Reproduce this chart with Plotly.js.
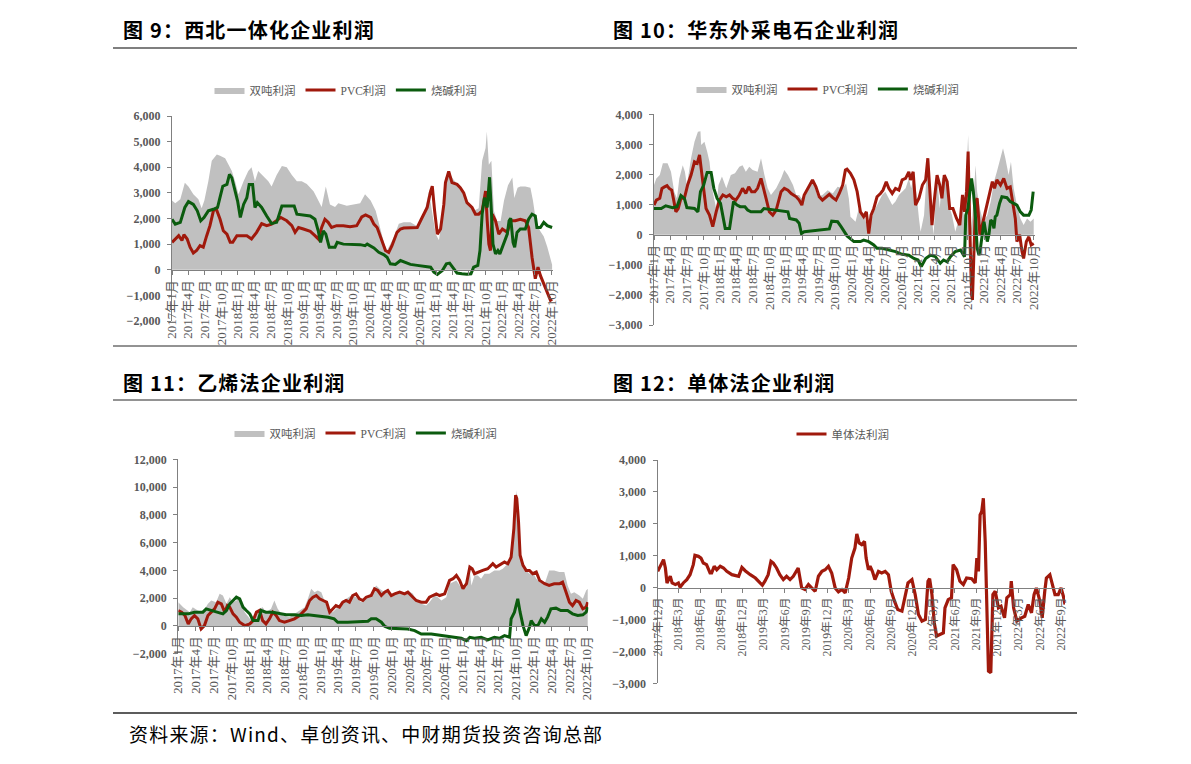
<!DOCTYPE html>
<html><head><meta charset="utf-8">
<script src="https://cdn.plot.ly/plotly-3.0.1.min.js"></script>
<style>html,body{margin:0;padding:0;background:#fff;}#chart{width:1191px;height:764px;}
.annotation-text{letter-spacing:1.2px;}</style>
</head><body><div id="chart"></div>
<script>
// ---------- DATA ----------
const tickLabelsA = ['2017年1月','2017年4月','2017年7月','2017年10月','2018年1月','2018年4月','2018年7月','2018年10月','2019年1月','2019年4月','2019年7月','2019年10月','2020年1月','2020年4月','2020年7月','2020年10月','2021年1月','2021年4月','2021年7月','2021年10月','2022年1月','2022年4月','2022年7月','2022年10月'];
const tickDatesA = ['2017-01-01','2017-04-01','2017-07-01','2017-10-01','2018-01-01','2018-04-01','2018-07-01','2018-10-01','2019-01-01','2019-04-01','2019-07-01','2019-10-01','2020-01-01','2020-04-01','2020-07-01','2020-10-01','2021-01-01','2021-04-01','2021-07-01','2021-10-01','2022-01-01','2022-04-01','2022-07-01','2022-10-01'];
const tickLabelsB = ['2017年12月','2018年3月','2018年6月','2018年9月','2018年12月','2019年3月','2019年6月','2019年9月','2019年12月','2020年3月','2020年6月','2020年9月','2020年12月','2021年3月','2021年6月','2021年9月','2021年12月','2022年3月','2022年6月','2022年9月'];
const tickDatesB = ['2017-12-01','2018-03-01','2018-06-01','2018-09-01','2018-12-01','2019-03-01','2019-06-01','2019-09-01','2019-12-01','2020-03-01','2020-06-01','2020-09-01','2020-12-01','2021-03-01','2021-06-01','2021-09-01','2021-12-01','2022-03-01','2022-06-01','2022-09-01'];

const seriesNames = ['双吨利润','PVC利润','烧碱利润'];
const monomerName = '单体法利润';

// 图9 西北一体化企业利润
const c1Ton = [['2017-01-01',2700],['2017-01-19',2600],['2017-02-16',2750],['2017-03-13',3400],['2017-04-02',3250],['2017-04-29',2950],['2017-05-27',2750],['2017-06-14',2400],['2017-06-29',2700],['2017-07-21',3450],['2017-08-09',4250],['2017-09-06',4500],['2017-09-24',4450],['2017-10-22',4350],['2017-11-10',4100],['2017-11-28',3850],['2017-12-16',3450],
['2018-01-04',2950],['2018-02-01',3450],['2018-02-27',3850],['2018-03-17',4000],['2018-04-05',3450],['2018-04-23',3850],['2018-05-21',3650],['2018-06-18',3450],['2018-07-06',3250],['2018-08-03',3700],['2018-09-01',4050],['2018-09-28',4000],['2018-10-26',3700],['2018-11-23',3450],['2018-12-20',3450],
['2019-01-17',3350],['2019-02-24',3050],['2019-03-21',2700],['2019-04-09',2450],['2019-05-02',3250],['2019-05-25',2550],['2019-06-22',2450],['2019-07-10',2600],['2019-08-26',2500],['2019-10-01',2550],['2019-11-08',2600],['2019-12-05',2950],
['2020-01-05',2700],['2020-02-02',2300],['2020-02-28',1650],['2020-03-21',1000],['2020-04-05',750],['2020-04-23',1000],['2020-05-11',1250],['2020-06-09',1800],['2020-07-06',1850],['2020-08-12',1850],['2020-09-19',1700],['2020-10-07',1900],['2020-11-04',2450],['2020-11-22',3050],['2020-12-11',2300],['2020-12-30',1400],
['2021-01-17',1150],['2021-02-05',2150],['2021-02-22',3600],['2021-03-12',3800],['2021-04-09',3500],['2021-05-06',3300],['2021-06-03',2950],['2021-07-01',2550],['2021-07-28',2300],['2021-08-25',2400],['2021-09-13',4250],['2021-10-02',4750],['2021-10-09',5400],['2021-10-20',4100],['2021-11-03',4250],['2021-11-17',2300],['2021-12-05',1900],['2021-12-24',1900],
['2022-01-12',2700],['2022-02-03',3300],['2022-02-27',3600],['2022-03-10',2800],['2022-03-28',3200],['2022-04-12',3250],['2022-05-10',3250],['2022-06-07',3200],['2022-06-21',2700],['2022-07-10',1800],['2022-08-01',1500],['2022-08-20',1300],['2022-09-08',900],['2022-09-28',400],['2022-10-05',200]];
const c1Pvc = [['2017-01-01',1070],['2017-01-19',1200],['2017-02-07',1330],['2017-02-25',1140],['2017-03-08',1370],['2017-03-26',1200],['2017-04-11',880],['2017-04-29',650],['2017-05-17',750],['2017-06-05',940],['2017-06-23',880],['2017-07-12',1330],['2017-07-30',1720],['2017-08-18',2300],['2017-09-02',2390],['2017-09-24',1970],['2017-10-12',1520],['2017-11-01',1390],['2017-11-19',1070],['2017-12-03',1070],['2017-12-26',1330],
['2018-01-23',1330],['2018-02-19',1330],['2018-03-17',1200],['2018-04-14',1460],['2018-05-12',1800],['2018-06-09',1720],['2018-07-06',1780],['2018-08-03',1910],['2018-08-26',2040],['2018-09-28',1910],['2018-10-26',1720],['2018-11-13',1460],['2018-12-02',1650],['2018-12-29',1590],
['2019-02-05',1500],['2019-03-03',1330],['2019-03-21',1200],['2019-04-09',1650],['2019-04-27',1970],['2019-05-15',1850],['2019-06-03',1650],['2019-07-01',1720],['2019-08-07',1720],['2019-09-13',1680],['2019-10-20',1720],['2019-11-17',2060],['2019-12-08',2140],
['2020-01-05',2040],['2020-01-23',1780],['2020-02-10',1650],['2020-03-08',1140],['2020-03-27',750],['2020-04-14',680],['2020-05-02',940],['2020-05-30',1460],['2020-06-18',1590],['2020-07-06',1630],['2020-08-12',1650],['2020-09-19',1650],['2020-10-16',2040],['2020-11-13',2430],['2020-12-02',3070],['2020-12-11',3260],['2020-12-24',2300],
['2021-01-08',1390],['2021-01-26',1590],['2021-02-13',2550],['2021-02-22',3400],['2021-03-12',3840],['2021-03-30',3400],['2021-04-27',3330],['2021-05-15',3200],['2021-06-03',3000],['2021-06-21',2620],['2021-07-19',2430],['2021-08-07',2170],['2021-08-25',2170],['2021-09-13',2300],['2021-10-02',3070],['2021-10-11',1910],['2021-10-20',1000],['2021-10-29',750],['2021-11-08',2170],['2021-11-26',1910],['2021-12-14',1390],
['2022-01-03',1590],['2022-01-30',1460],['2022-02-18',1910],['2022-03-15',1910],['2022-04-12',1970],['2022-05-10',1910],['2022-05-28',1650],['2022-06-16',490],['2022-07-04',-350],['2022-07-19',100],['2022-08-01',-220],['2022-08-20',-540],['2022-09-08',-860],['2022-09-26',-1190],['2022-10-05',-1150]];
const c1Soda = [['2017-01-01',1970],['2017-01-19',1780],['2017-02-16',1850],['2017-03-13',2430],['2017-04-02',2660],['2017-04-29',2550],['2017-05-21',2300],['2017-06-09',1910],['2017-06-27',2040],['2017-07-21',2300],['2017-08-18',2360],['2017-09-10',2430],['2017-09-21',2750],['2017-10-09',3260],['2017-11-01',3330],['2017-11-15',3720],['2017-11-28',3590],['2017-12-16',3010],['2017-12-30',2680],
['2018-01-14',2040],['2018-02-01',2550],['2018-02-19',2810],['2018-03-04',3330],['2018-03-23',3330],['2018-04-05',2430],['2018-04-18',2620],['2018-05-12',2430],['2018-06-09',2100],['2018-07-06',1800],['2018-08-03',1850],['2018-09-01',2490],['2018-10-07',2490],['2018-11-08',2490],['2018-11-23',2170],['2018-12-29',2140],
['2019-02-05',2100],['2019-03-03',1970],['2019-03-21',1520],['2019-04-03',1070],['2019-04-18',1520],['2019-05-02',1390],['2019-05-21',880],['2019-06-22',880],['2019-07-04',1070],['2019-08-07',1000],['2019-10-01',1000],['2019-11-08',980],['2019-12-05',940],['2019-12-17',1000],
['2020-01-23',850],['2020-02-19',680],['2020-03-17',590],['2020-04-05',490],['2020-04-23',230],['2020-05-21',210],['2020-06-18',360],['2020-07-15',300],['2020-08-12',210],['2020-09-19',170],['2020-10-25',140],['2020-12-02',100],['2020-12-20',-90],
['2021-01-08',-180],['2021-02-05',-30],['2021-02-27',230],['2021-03-17',260],['2021-04-05',100],['2021-04-27',-130],['2021-05-24',-160],['2021-06-21',-180],['2021-07-13',-160],['2021-07-28',100],['2021-08-20',170],['2021-09-01',750],['2021-09-13',2170],['2021-09-26',2810],['2021-10-11',2430],['2021-10-24',3610],['2021-11-03',2300],['2021-11-12',1000],['2021-11-26',620],['2021-12-09',750],['2021-12-20',620],
['2022-01-03',880],['2022-01-15',1070],['2022-01-30',1390],['2022-02-09',1910],['2022-02-18',2010],['2022-03-03',1070],['2022-03-12',880],['2022-03-25',1460],['2022-04-12',1590],['2022-05-10',1590],['2022-05-28',1970],['2022-06-16',2170],['2022-07-04',2100],['2022-07-13',1650],['2022-08-01',1650],['2022-08-20',1850],['2022-09-08',1720],['2022-10-05',1650]];

// 图10 华东外采电石企业利润
const c2Ton = [['2017-01-01',1650],['2017-01-14',1870],['2017-02-02',1980],['2017-02-19',2370],['2017-03-17',2370],['2017-04-05',2090],['2017-04-23',1430],['2017-05-08',1210],['2017-05-21',1870],['2017-06-09',2310],['2017-06-21',2090],['2017-07-02',1650],['2017-07-25',2540],['2017-08-13',3090],['2017-09-01',3420],['2017-09-15',3440],['2017-09-19',2980],['2017-10-07',3090],['2017-10-22',2760],['2017-11-04',2420],['2017-11-22',1430],['2017-12-11',870],['2017-12-24',1650],
['2018-01-12',1930],['2018-02-05',1540],['2018-03-02',1980],['2018-03-25',2040],['2018-04-18',2260],['2018-05-06',2310],['2018-05-24',2090],['2018-06-12',2260],['2018-07-01',2150],['2018-07-28',2090],['2018-08-16',2540],['2018-09-04',1980],['2018-09-22',1540],['2018-10-10',1320],['2018-11-08',1540],['2018-12-05',1870],['2018-12-23',2150],
['2019-01-12',1980],['2019-02-09',1650],['2019-02-27',1320],['2019-03-15',1320],['2019-03-28',1210],['2019-04-21',1430],['2019-05-19',1820],['2019-06-07',1650],['2019-06-25',1260],['2019-07-22',1320],['2019-08-20',1480],['2019-09-17',1370],['2019-10-14',1590],['2019-11-11',1540],['2019-11-30',1700],['2019-12-15',1200],['2019-12-24',600],
['2020-01-21',430],['2020-02-08',870],['2020-03-06',650],['2020-03-24',320],['2020-04-12',430],['2020-05-01',760],['2020-05-19',985],['2020-06-16',1320],['2020-07-04',1430],['2020-07-23',1210],['2020-08-11',985],['2020-08-29',1100],['2020-09-17',1320],['2020-10-05',1430],['2020-10-24',1540],['2020-11-11',1870],['2020-11-24',1540],['2020-12-09',1980],['2020-12-24',1320],
['2021-01-06',540],['2021-01-15',100],['2021-02-03',650],['2021-02-17',1980],['2021-03-01',2310],['2021-03-13',870],['2021-03-28',0],['2021-04-16',1980],['2021-05-01',870],['2021-05-13',1870],['2021-06-02',1980],['2021-06-20',985],['2021-07-08',650],['2021-07-26',100],['2021-08-15',540],['2021-09-03',1100],['2021-09-15',430],['2021-09-26',1980],['2021-10-05',3310],['2021-10-14',1540],['2021-10-24',210],['2021-11-06',1430],['2021-11-15',2310],['2021-11-24',1430],['2021-12-09',870],['2021-12-27',430],
['2022-01-19',650],['2022-02-07',1100],['2022-02-25',1760],['2022-03-13',2090],['2022-04-02',2540],['2022-04-16',2870],['2022-04-29',2540],['2022-05-17',1980],['2022-05-30',2420],['2022-06-14',1540],['2022-07-02',985],['2022-07-21',540],['2022-08-08',320],['2022-08-27',540],['2022-09-15',430],['2022-10-03',540]];
const c2Pvc = [['2017-01-01',985],['2017-01-14',1150],['2017-02-02',1210],['2017-02-14',1540],['2017-02-28',1590],['2017-03-14',1630],['2017-03-26',1540],['2017-04-09',1480],['2017-04-20',1150],['2017-05-02',760],['2017-05-15',870],['2017-05-30',1210],['2017-06-18',1210],['2017-07-06',1650],['2017-07-25',1980],['2017-08-13',2420],['2017-08-28',2370],['2017-09-10',2650],['2017-09-19',2200],['2017-10-03',1430],['2017-10-16',870],['2017-11-04',650],['2017-11-22',270],['2017-12-11',760],['2017-12-29',1150],
['2018-01-17',1320],['2018-02-05',1260],['2018-02-23',1320],['2018-03-12',1210],['2018-03-30',1150],['2018-04-18',1320],['2018-05-06',1540],['2018-05-24',1370],['2018-06-09',1590],['2018-06-25',1430],['2018-07-13',1430],['2018-07-28',1540],['2018-08-16',1870],['2018-09-01',1540],['2018-09-13',1210],['2018-10-01',760],['2018-10-20',650],['2018-11-08',820],['2018-12-05',1430],['2018-12-23',1540],
['2019-01-12',1480],['2019-01-30',1370],['2019-02-27',1260],['2019-03-15',1150],['2019-03-30',985],['2019-04-12',1320],['2019-05-01',1540],['2019-05-28',1820],['2019-06-16',1590],['2019-07-04',1260],['2019-07-22',1150],['2019-08-10',1260],['2019-08-29',1340],['2019-09-17',1230],['2019-10-05',1150],['2019-10-23',1370],['2019-11-11',1650],['2019-11-26',2150],['2019-12-05',2180],['2019-12-24',2040],
['2020-01-12',1820],['2020-01-30',1430],['2020-02-17',760],['2020-03-06',600],['2020-03-21',760],['2020-04-03',40],['2020-04-16',650],['2020-05-01',870],['2020-05-19',1260],['2020-06-07',1370],['2020-06-21',1480],['2020-07-09',1760],['2020-07-23',1540],['2020-08-11',1370],['2020-08-29',1540],['2020-09-17',1480],['2020-10-05',1820],['2020-10-24',1870],['2020-11-11',2090],['2020-11-20',1820],['2020-12-05',2090],['2020-12-18',985],
['2021-01-06',1210],['2021-01-25',1650],['2021-02-12',1820],['2021-02-24',2540],['2021-03-06',1650],['2021-03-19',320],['2021-04-02',1210],['2021-04-16',1980],['2021-05-01',1650],['2021-05-13',1210],['2021-05-26',1980],['2021-06-11',1760],['2021-06-25',870],['2021-07-13',870],['2021-08-02',540],['2021-08-20',320],['2021-09-04',1320],['2021-09-15',760],['2021-09-26',1430],['2021-10-05',2760],['2021-10-14',320],['2021-10-24',-2000],['2021-10-29',-2170],['2021-11-06',-790],['2021-11-15',1100],['2021-11-24',1210],['2021-12-09',0],['2021-12-22',320],
['2022-01-05',650],['2022-01-19',985],['2022-02-03',1430],['2022-02-16',1760],['2022-02-28',1540],['2022-03-13',1820],['2022-04-02',1650],['2022-04-20',1870],['2022-05-08',1540],['2022-05-26',1590],['2022-06-10',1100],['2022-06-23',540],['2022-07-02',-230],['2022-07-17',0],['2022-07-30',-560],['2022-08-08',-790],['2022-08-23',-230],['2022-09-06',-70],['2022-09-19',-340],['2022-10-03',-290]];
const c2Soda = [['2017-01-01',870],['2017-02-10',870],['2017-03-07',960],['2017-04-14',900],['2017-05-08',930],['2017-05-30',1300],['2017-06-18',1210],['2017-07-02',900],['2017-08-13',870],['2017-09-01',760],['2017-09-15',1430],['2017-10-03',1650],['2017-10-22',2070],['2017-11-13',2070],['2017-11-28',1540],['2017-12-16',1210],
['2018-01-04',1040],['2018-01-17',650],['2018-01-30',210],['2018-02-23',210],['2018-03-02',540],['2018-03-17',1100],['2018-04-05',985],['2018-04-23',930],['2018-05-19',930],['2018-06-03',820],['2018-06-21',760],['2018-08-16',760],['2018-09-01',870],['2018-10-01',840],['2018-11-26',790],['2018-12-23',760],
['2019-01-12',760],['2019-01-21',540],['2019-02-27',490],['2019-03-15',380],['2019-03-28',40],['2019-04-12',100],['2019-05-19',120],['2019-07-13',140],['2019-08-29',190],['2019-09-11',450],['2019-10-14',430],['2019-11-02',270],['2019-11-20',100],['2019-12-05',-40],
['2020-01-12',-230],['2020-02-17',-230],['2020-03-06',-180],['2020-04-03',-230],['2020-05-01',-340],['2020-05-19',-450],['2020-06-16',-450],['2020-07-23',-510],['2020-08-29',-560],['2020-10-05',-650],['2020-11-11',-680],['2020-12-09',-790],
['2021-01-01',-840],['2021-01-19',-1060],['2021-02-12',-790],['2021-03-10',-680],['2021-04-07',-730],['2021-05-04',-950],['2021-05-22',-840],['2021-06-11',-900],['2021-06-29',-730],['2021-07-26',-560],['2021-08-24',-510],['2021-09-15',-730],['2021-09-22',650],['2021-10-04',870],['2021-10-14',1320],['2021-10-24',1870],['2021-11-03',1430],['2021-11-15',540],['2021-11-24',-450],['2021-12-04',-680],['2021-12-12',-450],['2021-12-22',0],
['2022-01-01',430],['2022-01-10',100],['2022-01-19',-230],['2022-01-28',0],['2022-02-07',490],['2022-02-16',430],['2022-02-25',210],['2022-03-04',600],['2022-03-13',650],['2022-03-28',1040],['2022-04-10',1260],['2022-05-08',1230],['2022-05-26',1100],['2022-06-14',1040],['2022-07-02',985],['2022-07-21',760],['2022-08-08',650],['2022-09-06',650],['2022-09-19',820],['2022-09-30',1430]];

// 图11 乙烯法企业利润
const c3Ton = [['2017-01-01',1710],['2017-01-26',1350],['2017-03-01',990],['2017-03-16',1350],['2017-04-11',1110],['2017-05-07',990],['2017-06-02',1590],['2017-06-19',1830],['2017-07-14',1710],['2017-08-01',2310],['2017-08-18',2190],['2017-09-05',1590],['2017-09-22',2070],['2017-10-09',1710],['2017-10-26',1830],['2017-11-12',1950],['2017-12-08',990],
['2018-01-03',510],['2018-01-29',750],['2018-02-22',1230],['2018-03-10',1350],['2018-03-27',990],['2018-04-22',1230],['2018-05-09',1830],['2018-05-26',1230],['2018-06-21',750],['2018-07-25',630],['2018-08-20',870],['2018-09-15',1110],['2018-10-11',1350],['2018-10-28',1950],['2018-11-14',2680],['2018-12-01',2430],['2018-12-18',2550],
['2019-01-05',2430],['2019-01-22',1710],['2019-02-09',1110],['2019-03-04',990],['2019-03-30',1350],['2019-04-16',1710],['2019-05-12',1950],['2019-06-07',2190],['2019-07-02',2070],['2019-07-28',1710],['2019-08-23',1950],['2019-09-18',2310],['2019-10-13',2920],['2019-10-31',2680],['2019-11-26',2430],['2019-12-12',2550],
['2020-01-08',2190],['2020-01-25',2430],['2020-02-19',2430],['2020-03-07',2190],['2020-03-24',2550],['2020-04-19',2310],['2020-05-06',1830],['2020-06-01',1590],['2020-06-26',1470],['2020-07-13',1710],['2020-08-08',2190],['2020-08-25',2070],['2020-09-12',1830],['2020-10-07',2070],['2020-10-24',3040],['2020-11-11',3160],['2020-11-28',3280],['2020-12-15',2920],
['2021-01-01',2680],['2021-01-19',2800],['2021-02-05',4000],['2021-02-13',2920],['2021-03-01',3640],['2021-03-18',3640],['2021-04-04',3400],['2021-04-21',3760],['2021-05-16',3760],['2021-06-11',4000],['2021-07-07',4000],['2021-07-24',4120],['2021-08-10',4360],['2021-08-28',4600],['2021-09-14',5570],['2021-09-22',7500],['2021-10-01',9780],['2021-10-09',8460],['2021-10-21',5330],['2021-11-05',4120],['2021-11-21',4000],['2021-12-08',3760],['2021-12-25',3880],
['2022-01-12',3400],['2022-01-29',3160],['2022-02-24',3040],['2022-03-19',4000],['2022-04-14',4000],['2022-05-10',3880],['2022-06-05',3880],['2022-06-22',2920],['2022-07-09',2310],['2022-07-26',2430],['2022-08-21',2190],['2022-09-08',1950],['2022-09-25',2550],['2022-10-03',2680]];
const c3Pvc = [['2017-01-01',1110],['2017-01-18',990],['2017-02-04',750],['2017-02-21',145],['2017-03-08',510],['2017-03-25',750],['2017-04-11',510],['2017-04-28',-220],['2017-05-15',25],['2017-06-02',750],['2017-06-19',990],['2017-07-06',1230],['2017-07-23',1710],['2017-08-10',1590],['2017-08-27',990],['2017-09-10',1470],['2017-09-22',1350],['2017-10-09',870],['2017-10-26',630],['2017-11-12',265],['2017-12-08',25],
['2018-01-03',145],['2018-01-20',385],['2018-02-06',990],['2018-02-22',1110],['2018-03-10',385],['2018-03-27',145],['2018-04-14',510],['2018-05-01',990],['2018-05-18',750],['2018-06-04',385],['2018-06-30',265],['2018-07-25',385],['2018-08-20',510],['2018-09-15',750],['2018-10-02',990],['2018-10-19',1230],['2018-11-06',1830],['2018-11-23',2070],['2018-12-10',2190],['2018-12-27',1950],
['2019-01-14',1830],['2019-02-01',1710],['2019-02-17',990],['2019-03-04',1230],['2019-03-21',1470],['2019-04-08',1350],['2019-04-25',1710],['2019-05-12',1830],['2019-05-29',1710],['2019-06-15',2190],['2019-07-02',2310],['2019-07-19',1950],['2019-08-06',1830],['2019-08-23',2070],['2019-09-18',2190],['2019-10-05',2680],['2019-10-22',2550],['2019-11-09',2190],['2019-11-26',2430],['2019-12-12',2550],['2019-12-30',2190],
['2020-01-16',2310],['2020-02-11',2430],['2020-03-07',2310],['2020-03-24',2430],['2020-04-10',2190],['2020-05-06',1830],['2020-06-01',1710],['2020-06-26',1710],['2020-07-13',2070],['2020-07-30',2190],['2020-08-17',2310],['2020-09-03',2190],['2020-09-29',2310],['2020-10-24',3280],['2020-11-11',3400],['2020-11-28',3640],['2020-12-15',3280],
['2021-01-01',2680],['2021-01-19',3040],['2021-02-05',4240],['2021-02-17',4120],['2021-03-01',3760],['2021-03-18',3880],['2021-04-12',4000],['2021-05-08',4120],['2021-06-03',4480],['2021-06-20',4240],['2021-07-07',4360],['2021-08-02',4600],['2021-08-19',4480],['2021-09-05',4960],['2021-09-19',7010],['2021-09-28',9420],['2021-10-04',9180],['2021-10-13',7500],['2021-10-21',5090],['2021-11-05',4360],['2021-11-21',4000],['2021-12-08',4000],['2021-12-25',3760],
['2022-01-12',3880],['2022-01-29',3280],['2022-02-24',3040],['2022-03-19',2920],['2022-04-14',3040],['2022-05-10',3040],['2022-05-27',3160],['2022-06-14',2430],['2022-07-01',1710],['2022-07-17',1470],['2022-08-04',1830],['2022-08-21',1710],['2022-09-08',1230],['2022-09-25',1350],['2022-10-03',1710]];
const c3Soda = [['2017-01-01',870],['2017-02-21',870],['2017-03-25',990],['2017-05-07',990],['2017-05-24',1230],['2017-06-19',1110],['2017-07-14',990],['2017-08-18',870],['2017-09-05',1110],['2017-09-22',1590],['2017-10-09',1830],['2017-10-26',2070],['2017-11-12',1950],['2017-11-29',1350],['2017-12-16',1110],
['2018-01-03',870],['2018-01-20',385],['2018-02-14',385],['2018-03-02',1110],['2018-03-27',990],['2018-05-01',990],['2018-06-04',870],['2018-07-08',800],['2018-08-20',800],['2018-09-24',750],['2018-10-28',800],['2018-12-01',750],
['2019-01-05',700],['2019-02-09',630],['2019-03-12',510],['2019-03-30',265],['2019-05-20',265],['2019-07-02',310],['2019-09-01',340],['2019-09-18',510],['2019-10-13',510],['2019-11-09',265],['2019-11-26',-25],['2019-12-21',-170],
['2020-02-03',-170],['2020-03-24',-220],['2020-04-28',-340],['2020-06-01',-580],['2020-07-22',-580],['2020-09-12',-700],['2020-11-02',-820],['2020-12-23',-890],
['2021-01-19',-1060],['2021-02-05',-820],['2021-03-01',-890],['2021-04-04',-820],['2021-05-08',-1010],['2021-06-11',-820],['2021-07-07',-890],['2021-08-02',-700],['2021-08-28',-820],['2021-09-05',510],['2021-09-22',990],['2021-10-09',1950],['2021-10-21',990],['2021-11-05',25],['2021-11-21',-700],['2021-12-08',-100],['2021-12-17',385],
['2022-01-03',25],['2022-01-20',25],['2022-02-07',510],['2022-02-24',265],['2022-03-11',630],['2022-03-28',1230],['2022-04-23',1280],['2022-05-18',1110],['2022-06-22',1110],['2022-07-17',870],['2022-08-13',750],['2022-09-08',800],['2022-09-25',990],['2022-10-03',1350]];

// 图12 单体法企业利润
const c4Monomer = [['2017-12-01',510],['2017-12-12',670],['2017-12-26',875],['2018-01-03',615],['2018-01-10',145],['2018-01-17',250],['2018-01-24',355],['2018-02-01',145],['2018-02-15',95],['2018-02-28',145],['2018-03-07',10],['2018-03-21',145],['2018-04-05',250],['2018-04-19',405],['2018-05-03',720],['2018-05-10',1010],['2018-05-25',980],['2018-06-05',925],['2018-06-15',770],['2018-06-29',720],['2018-07-14',460],['2018-07-21',460],['2018-08-01',670],['2018-08-12',560],['2018-08-27',670],['2018-09-10',615],['2018-09-24',510],['2018-10-16',405],['2018-11-14',355],['2018-11-28',635],['2018-12-12',530],
['2019-01-03',405],['2019-01-25',300],['2019-02-14',145],['2019-02-24',75],['2019-03-07',200],['2019-03-21',405],['2019-04-02',825],['2019-04-12',770],['2019-04-26',615],['2019-05-10',405],['2019-05-25',250],['2019-06-08',355],['2019-06-23',250],['2019-07-07',355],['2019-07-28',615],['2019-08-12',-10],['2019-08-26',-60],['2019-09-10',95],['2019-09-24',-10],['2019-10-09',-115],['2019-10-23',355],['2019-11-07',510],['2019-11-21',560],['2019-12-05',670],['2019-12-19',460],
['2020-01-03',-10],['2020-01-17',-135],['2020-02-01',-60],['2020-02-15',-165],['2020-02-22',95],['2020-03-01',300],['2020-03-14',925],['2020-03-28',1240],['2020-04-05',1680],['2020-04-15',1400],['2020-04-26',1345],['2020-05-08',1450],['2020-05-15',925],['2020-05-25',560],['2020-06-01',670],['2020-06-11',510],['2020-06-22',250],['2020-07-07',510],['2020-07-21',460],['2020-08-05',510],['2020-08-19',405],['2020-08-31',-115],['2020-09-14',-425],['2020-09-28',-690],['2020-10-16',-740],['2020-10-30',-320],['2020-11-11',145],['2020-11-28',250],['2020-12-12',-220],['2020-12-26',-845],
['2021-01-10',-1050],['2021-01-25',-1000],['2021-02-05',200],['2021-02-12',280],['2021-02-22',-220],['2021-03-04',-1100],['2021-03-14',-1520],['2021-03-28',-1470],['2021-04-12',-1420],['2021-04-19',-635],['2021-05-03',-375],['2021-05-17',-320],['2021-05-24',720],['2021-06-08',560],['2021-06-22',200],['2021-07-07',95],['2021-07-21',300],['2021-08-12',280],['2021-08-27',145],['2021-09-03',925],['2021-09-10',510],['2021-09-17',2280],['2021-09-24',2385],['2021-10-01',2800],['2021-10-09',1450],['2021-10-23',-2620],['2021-11-02',-2670],['2021-11-11',-220],['2021-11-21',-115],['2021-12-05',-635],['2021-12-16',-585],['2021-12-31',-950],
['2022-01-10',-320],['2022-01-25',-220],['2022-01-29',200],['2022-02-08',-635],['2022-02-22',-1050],['2022-03-14',-950],['2022-03-28',-900],['2022-04-12',-530],['2022-04-26',-790],['2022-05-07',-220],['2022-05-17',-10],['2022-06-01',-425],['2022-06-11',-950],['2022-06-22',-115],['2022-06-29',300],['2022-07-14',405],['2022-07-21',200],['2022-08-05',-220],['2022-08-19',-220],['2022-08-31',-10],['2022-09-10',-270],['2022-09-17',-530]];

// ---------- STYLE / LAYOUT ----------
const W = 1191, H = 764;
const px = v => v / W;
const py = v => 1 - v / H;
const RED = '#A0190C', GREEN = '#0B5B0E', GRAY = '#C0C0C0';
const SERIF = '"Liberation Serif","Times New Roman","Noto Sans CJK SC",serif';
const CJK = '"Noto Sans CJK SC","Noto Sans",sans-serif';
const AXC = '#595959';

const xs = a => a.map(d => d[0]);
const ys = a => a.map(d => d[1]);

function areaTrace(data, name, xa, ya, leg) {
  return {type:'scatter', mode:'lines', x: xs(data), y: ys(data), name, xaxis: xa, yaxis: ya, legend: leg,
    fill:'tozeroy', fillcolor: GRAY, line:{width:0, color: GRAY}, hoverinfo:'skip'};
}
function lineTrace(data, name, color, xa, ya, leg, w) {
  return {type:'scatter', mode:'lines', x: xs(data), y: ys(data), name, xaxis: xa, yaxis: ya, legend: leg,
    line:{color, width: w || 3}, hoverinfo:'skip'};
}

const traces = [
  areaTrace(c1Ton, seriesNames[0], 'x', 'y', 'legend'),
  lineTrace(c1Pvc, seriesNames[1], RED, 'x', 'y', 'legend'),
  lineTrace(c1Soda, seriesNames[2], GREEN, 'x', 'y', 'legend'),
  areaTrace(c2Ton, seriesNames[0], 'x2', 'y2', 'legend2'),
  lineTrace(c2Pvc, seriesNames[1], RED, 'x2', 'y2', 'legend2'),
  lineTrace(c2Soda, seriesNames[2], GREEN, 'x2', 'y2', 'legend2'),
  areaTrace(c3Ton, seriesNames[0], 'x3', 'y3', 'legend3'),
  lineTrace(c3Pvc, seriesNames[1], RED, 'x3', 'y3', 'legend3'),
  lineTrace(c3Soda, seriesNames[2], GREEN, 'x3', 'y3', 'legend3'),
  lineTrace(c4Monomer, monomerName, RED, 'x4', 'y4', 'legend4', 3.2)
];

function xAxis(dom, range, zeroPos, tv, tt, fs) {
  return {domain: dom, range, type:'date', anchor:'free', position: zeroPos,
    tickmode:'array', tickvals: tv, ticktext: tt, tickangle: -90,
    tickfont:{family: SERIF, size: fs, color: AXC},
    showline:true, linecolor:'#808080', linewidth:1.2, ticks:'outside', ticklen:4, tickcolor:'#808080',
    showgrid:false, zeroline:false, fixedrange:true};
}
function yAxis(dom, range, dtick, xname) {
  return {domain: dom, range, anchor: xname, dtick, tick0: 0, tickformat:',d',
    tickfont:{family: SERIF, size: 12, color: AXC, weight:'bold'},
    showline:true, linecolor:'#808080', linewidth:1.2, ticks:'outside', ticklen:4, tickcolor:'#808080',
    ticklabelstandoff: 4, showgrid:false, zeroline:false, fixedrange:true};
}

const d1y = [py(321), py(116)], d2y = [py(325), py(114.3)], d3y = [py(653.7), py(459.3)], d4y = [py(683.3), py(460)];
const zeroAt = (d, lo, hi) => d[0] + (0 - lo) / (hi - lo) * (d[1] - d[0]);

function legendCfg(xc, yc) {
  return {x: px(xc), y: py(yc), xanchor:'center', yanchor:'middle', orientation:'h',
    font:{family: SERIF, size: 11.5, color: AXC}, bgcolor:'rgba(0,0,0,0)', itemwidth: 30, traceorder:'normal'};
}

const layout = {
  width: W, height: H, margin:{l:0, r:0, t:0, b:0}, paper_bgcolor:'#fff', plot_bgcolor:'rgba(0,0,0,0)',
  showlegend: true,
  xaxis:  xAxis([px(172), px(553)], ['2017-01-01','2022-10-10'], zeroAt(d1y, -2000, 6000), tickDatesA, tickLabelsA, 13),
  yaxis:  yAxis(d1y, [-2000, 6000], 1000, 'x'),
  xaxis2: xAxis([px(654), px(1035)], ['2017-01-01','2022-10-10'], zeroAt(d2y, -3000, 4000), tickDatesA, tickLabelsA, 13),
  yaxis2: yAxis(d2y, [-3000, 4000], 1000, 'x2'),
  xaxis3: xAxis([px(178.3), px(588.3)], ['2017-01-01','2022-10-06'], zeroAt(d3y, -2000, 12000), tickDatesA, tickLabelsA, 12.8),
  yaxis3: yAxis(d3y, [-2000, 12000], 2000, 'x3'),
  xaxis4: xAxis([px(657.7), px(1065)], ['2017-12-01','2022-09-17'], zeroAt(d4y, -3000, 4000), tickDatesB, tickLabelsB, 11.8),
  yaxis4: yAxis(d4y, [-3000, 4000], 1000, 'x4'),
  legend:  legendCfg(346, 90),
  legend2: legendCfg(828, 89),
  legend3: legendCfg(366, 433),
  legend4: legendCfg(843, 434),
  shapes: [
    {type:'line', xref:'paper', yref:'paper', x0: px(113), x1: px(1077), y0: py(48), y1: py(48), line:{color:'#7f7f7f', width:2}},
    {type:'line', xref:'paper', yref:'paper', x0: px(113), x1: px(1077), y0: py(346), y1: py(346), line:{color:'#262626', width:1}},
    {type:'line', xref:'paper', yref:'paper', x0: px(113), x1: px(1077), y0: py(400), y1: py(400), line:{color:'#262626', width:1}},
    {type:'line', xref:'paper', yref:'paper', x0: px(113), x1: px(1077), y0: py(713), y1: py(713), line:{color:'#262626', width:1.3}}
  ],
  annotations: [
    {text:'图 9：西北一体化企业利润', x: px(121), y: py(30)},
    {text:'图 10：华东外采电石企业利润', x: px(611), y: py(30)},
    {text:'图 11：乙烯法企业利润', x: px(121), y: py(382)},
    {text:'图 12：单体法企业利润', x: px(611), y: py(382)}
  ].map(a => Object.assign({xref:'paper', yref:'paper', xanchor:'left', yanchor:'middle', showarrow:false,
        font:{family: CJK, size: 20, color:'#000', weight:'bold'}}, a))
  .concat([{text:'资料来源：Wind、卓创资讯、中财期货投资咨询总部', x: px(127), y: py(733), xref:'paper', yref:'paper',
        xanchor:'left', yanchor:'middle', showarrow:false, font:{family: CJK, size: 19, color:'#000'}}])
};

Plotly.newPlot('chart', traces, layout, {staticPlot:true, displayModeBar:false});
</script>
</body></html>
